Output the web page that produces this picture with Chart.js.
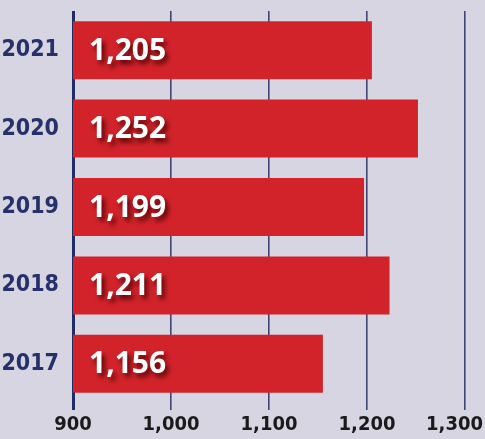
<!DOCTYPE html>
<html><head><meta charset="utf-8">
<script src="https://cdn.jsdelivr.net/npm/chart.js@4"></script>
<style>html,body{margin:0;padding:0;background:#d6d5e1;}#wrap{width:485px;height:439px;}</style>
</head><body><div id="wrap"><canvas id="c" width="485" height="439"></canvas></div>
<script>
const years = ['2021', '2020', '2019', '2018', '2017'];
const barValues = [1205, 1252, 1197, 1223, 1155];
const valueLabels = ['1,205', '1,252', '1,199', '1,211', '1,156'];
const xTicks = [900, 1000, 1100, 1200, 1300];

const valueLabelPlugin = {
  id: 'valueLabels',
  beforeDraw(chart) {
    // keep the last x tick label inside the canvas (right-aligned at the edge)
    const xs = chart.scales.x;
    const items = xs.getLabelItems(chart.chartArea);
    if (items && items.length) {
      const last = items[items.length - 1];
      last.options.textAlign = 'right';
      last.options.translation[0] = chart.width - 2;
    }
  },
  afterDraw(chart) {
    const ctx = chart.ctx;
    const xs = chart.scales.x, ys = chart.scales.y;
    const x0 = xs.getPixelForValue(xs.min);
    ctx.save();
    ctx.font = 'bold 30px "Open Sans", "DejaVu Sans", sans-serif';
    ctx.fillStyle = '#ffffff';
    ctx.textBaseline = 'middle';
    ctx.textAlign = 'left';
    ctx.shadowColor = 'rgba(70,0,0,0.9)';
    ctx.shadowBlur = 5;
    ctx.shadowOffsetX = 3;
    ctx.shadowOffsetY = 4;
    valueLabels.forEach((txt, i) => {
      ctx.fillText(txt, x0 + 16, ys.getPixelForValue(i) + 1);
    });
    ctx.restore();
  }
};

const condensed = '"Liberation Sans Narrow", "DejaVu Sans Condensed", "Roboto Condensed", sans-serif';

new Chart(document.getElementById('c'), {
  type: 'bar',
  data: {
    labels: years,
    datasets: [{
      data: barValues,
      backgroundColor: '#d2232b',
      borderWidth: 0,
      categoryPercentage: 1,
      barPercentage: 0.74
    }]
  },
  options: {
    indexAxis: 'y',
    responsive: false,
    animation: false,
    layout: { padding: { top: 11, right: 20, left: 0, bottom: 0 } },
    plugins: { legend: { display: false }, tooltip: { enabled: false } },
    scales: {
      x: {
        min: 900, max: 1300,
        afterBuildTicks(scale) { scale.ticks = xTicks.map(v => ({ value: v })); },
        afterFit(scale) { scale.height = 36; scale.paddingLeft = 0; scale.paddingRight = 0; scale.paddingTop = 0; scale.paddingBottom = 0; },
        border: { display: false },
        grid: {
          color: (c) => c.index === 0 ? '#212b66' : '#3f4675',
          lineWidth: (c) => c.index === 0 ? 3 : 1.6,
          tickLength: 7,
          drawTicks: true
        },
        ticks: {
          padding: 3,
          color: '#1a1a1a',
          font: { family: condensed, weight: 'bold', size: 20 },
          callback: (v) => v.toLocaleString('en-US')
        }
      },
      y: {
        afterFit(scale) { scale.width = 73; scale.paddingLeft = 0; scale.paddingRight = 0; scale.paddingTop = 0; scale.paddingBottom = 0; },
        border: { display: false },
        grid: { display: false, drawTicks: false },
        ticks: {
          padding: 14,
          color: '#26306a',
          font: { family: condensed, weight: 'bold', size: 23 }
        }
      }
    }
  },
  plugins: [valueLabelPlugin]
});
</script></body></html>
